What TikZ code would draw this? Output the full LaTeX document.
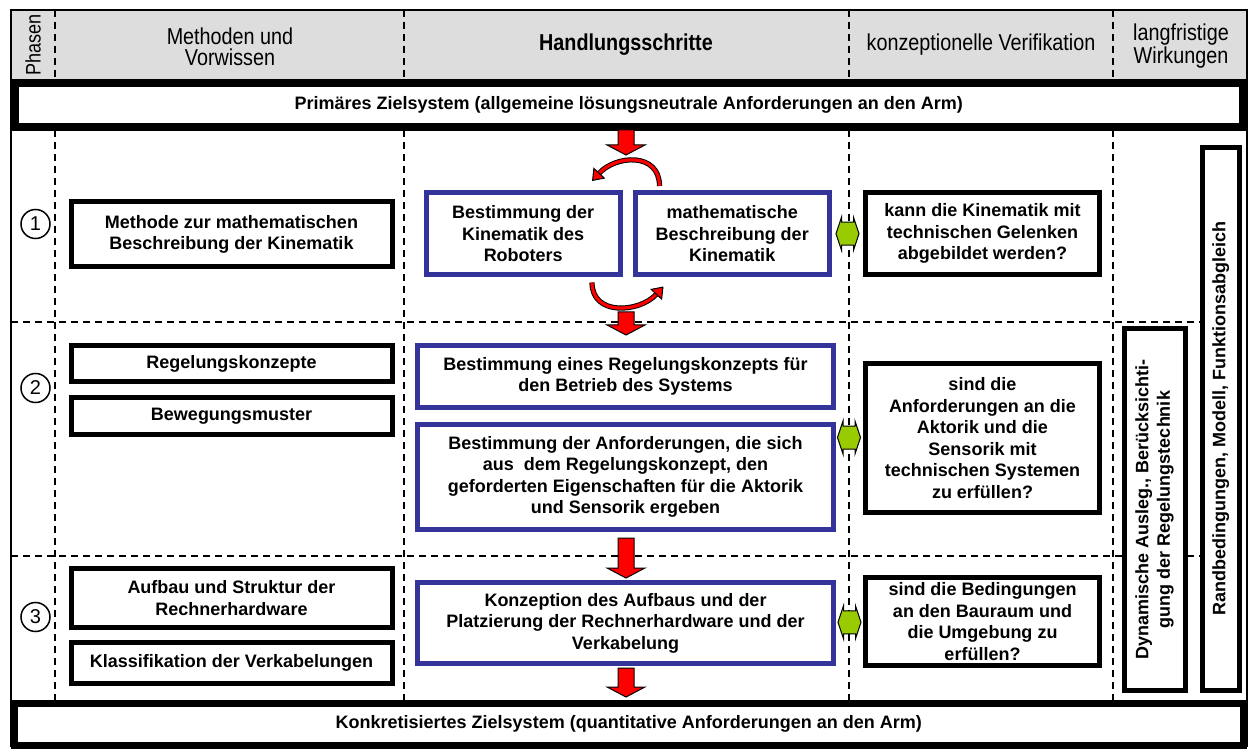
\documentclass[tikz,border=0pt]{standalone}
\usepackage{fontspec}
\setmainfont{Liberation Sans}
\newfontfamily\headfont[FakeStretch=0.86]{Liberation Sans}
\usetikzlibrary{arrows.meta}
\usetikzlibrary{calc}

\definecolor{hblue}{RGB}{51,51,153}
\definecolor{hred}{RGB}{255,0,0}
\definecolor{hgreen}{RGB}{153,204,0}
\definecolor{hgrey}{RGB}{221,221,221}

\tikzset{
  box/.style={draw=black, line width=2.5pt, fill=white, align=center, inner sep=0pt,
              font=\bfseries\fontsize{9}{10.75}\selectfont},
  stepbox/.style={box, draw=hblue},
  goal/.style={box, line width=4pt},
  head/.style={align=center, font=\headfont\fontsize{11.5}{10.3}\selectfont},
  phase/.style={circle, draw, line width=0.75pt, inner sep=0pt, minimum size=14.5pt,
                font=\fontsize{10}{12}\selectfont},
  sep/.style={dash pattern=on 3.5pt off 2.5pt, line width=0.6pt},
  redarrow/.style={fill=hred, draw=black, line width=0.5pt},
  greenarrow/.style={fill=hgreen, draw=black, line width=0.5pt},
  loop/.style={draw=black, double=hred, double distance=1.6pt, line width=0.5pt,
               -{Triangle[color=black, fill=hred, width=8pt, length=5.5pt, line width=0.5pt]}},
  pics/downarrow/.style={code={
    \filldraw[redarrow] (-8,0) -- (8,0) -- (8,#1-10) -- (19,#1-10) -- (0,#1)
      -- (-19,#1-10) -- (-8,#1-10) -- cycle;}},
  pics/checkarrow/.style={code={
    \filldraw[greenarrow] (-11.5,0) -- (-6,-16.5) -- (-6,-11.5) -- (6,-11.5) -- (6,-16.5)
      -- (11.5,0) -- (6,16.5) -- (6,11.5) -- (-6,11.5) -- (-6,16.5) -- cycle;}},
}

\begin{document}
\begin{tikzpicture}[x=0.5pt, y=-0.5pt]
  \useasboundingbox (0,0) rectangle (1250,749);

  % header row and frame
  \fill[hgrey] (11,10) rectangle (1247,82);
  \draw[line width=1.2pt] (11,10) rectangle (1247,746);
  \foreach \x in {55,404,849,1113}
    \draw[sep] (\x,10) -- (\x,705);
  \foreach \y in {322,556}
    \draw[sep] (11,\y) -- (1247,\y);

  \node[head, rotate=90, font=\headfont\fontsize{10.5}{12}\selectfont] (phasen) at (33,45) {Phasen};
  \node[head] (methoden) at (230,47) {Methoden und\\Vorwissen};
  \node[head, font=\headfont\bfseries\fontsize{11.5}{10.3}\selectfont] (schritte) at (626,45) {Handlungsschritte};
  \node[head] (verifikation) at (981,45) {konzeptionelle Verifikation};
  \node[head] (wirkungen) at (1181,46) {langfristige\\Wirkungen};

  % goal systems
  \node[goal, minimum width=614.25pt, minimum height=22pt] (ziel1) at (628.75,105)
    {Primäres Zielsystem (allgemeine lösungsneutrale Anforderungen an den Arm)};
  \node[goal, line width=3.5pt, minimum width=614.5pt, minimum height=21pt] (ziel2) at (628.75,724)
    {Konkretisiertes Zielsystem (quantitative Anforderungen an den Arm)};

  % phase 1
  \node[phase] (p1) at (35.5,224) {1};
  \node[box, minimum width=160.5pt, minimum height=32.5pt] (m1) at (231.5,234.5)
    {Methode zur mathematischen\\Beschreibung der Kinematik};
  \node[stepbox, minimum width=97.25pt, minimum height=41.25pt] (k1) at (523.25,233.75)
    {Bestimmung der\\Kinematik des\\Roboters};
  \node[stepbox, minimum width=97.25pt, minimum height=41.25pt] (k2) at (732.25,233.75)
    {mathematische\\Beschreibung der\\Kinematik};
  \node[box, minimum width=117pt, minimum height=41.25pt] (v1) at (982.5,233.75)
    {kann die Kinematik mit\\technischen Gelenken\\abgebildet werden?};

  % phase 2
  \node[phase] (p2) at (35.5,388) {2};
  \node[box, minimum width=160.5pt, minimum height=18pt] (m2) at (231.5,364) {Regelungskonzepte};
  \node[box, minimum width=160.5pt, minimum height=18pt] (m3) at (231.5,416) {Bewegungsmuster};
  \node[stepbox, minimum width=208pt, minimum height=31pt] (k3) at (625.5,376.5)
    {Bestimmung eines Regelungskonzepts für\\den Betrieb des Systems};
  \node[stepbox, minimum width=208pt, minimum height=52.5pt] (k4) at (625.5,477)
    {Bestimmung der Anforderungen, die sich\\aus~ dem Regelungskonzept, den\\geforderten Eigenschaften für die Aktorik\\und Sensorik ergeben};
  \node[box, minimum width=117pt, minimum height=74.5pt] (v2) at (982.5,438)
    {sind die\\Anforderungen an die\\Aktorik und die\\Sensorik mit\\technischen Systemen\\zu erfüllen?};

  % phase 3
  \node[phase] (p3) at (35.5,617) {3};
  \node[box, minimum width=160.5pt, minimum height=29.5pt] (m4) at (231.5,598)
    {Aufbau und Struktur der\\Rechnerhardware};
  \node[box, minimum width=160.5pt, minimum height=20.5pt] (m5) at (231.5,663)
    {Klassifikation der Verkabelungen};
  \node[stepbox, minimum width=208pt, minimum height=40.25pt] (k5) at (625.5,623)
    {Konzeption des Aufbaus und der\\Platzierung der Rechnerhardware und der\\Verkabelung};
  \node[box, minimum width=117pt, minimum height=44pt] (v3) at (982.5,621.5)
    {sind die Bedingungen\\an den Bauraum und\\die Umgebung zu\\erfüllen?};

  % long-term effects
  \node[box, rotate=90, minimum width=180.5pt, minimum height=30.5pt] (w1) at (1154.5,509.5)
    {Dynamische Ausleg., Berücksichti-\\gung der Regelungstechnik};
  \node[box, rotate=90, minimum width=271.25pt, minimum height=18.25pt] (w2) at (1220.75,418.75)
    {Randbedingungen, Modell, Funktionsabgleich};

  % flow between the steps
  \pic at (626,130) {downarrow=25};
  \pic at (626,312) {downarrow=23};
  \pic at (626,538) {downarrow=40};
  \pic at (626,668) {downarrow=29};
  \draw[loop] ($(k2.north west)+(27,-4)$) .. controls +(0,-34) and +(24,-26) .. ($(k1.north east)+(-31,-9)$);
  \draw[loop] ($(k1.south east)+(-31,5)$) .. controls +(0,34) and +(-24,26) .. ($(k2.south west)+(31,9)$);

  % checks against the verification
  \pic at ($(k2.east)!0.5!(v1.west)$) {checkarrow};
  \pic at (849,437.5) {checkarrow};
  \pic at ($(k5.east)!0.5!(v3.west)$) {checkarrow};
\end{tikzpicture}
\end{document}
